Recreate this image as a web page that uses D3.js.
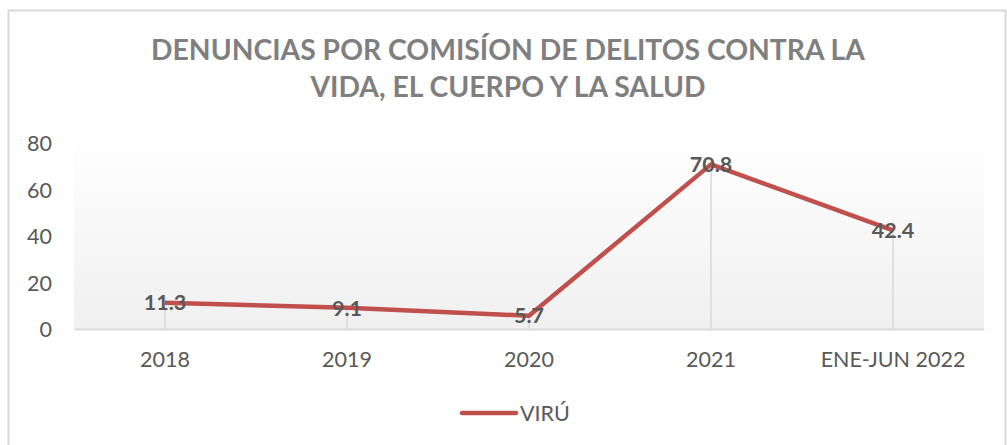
<!DOCTYPE html>
<html lang="es">
<head>
    <meta charset="UTF-8">
    <title>Denuncias - Virú</title>
    <script src="https://d3js.org/d3.v7.min.js"></script>
    <style>
        body { margin: 0; background: #fff; }
        svg { display: block; font-family: Lato, "Open Sans", sans-serif; }
        .tick text { fill: #595959; font-size: 21.5px; }
        .label { fill: #595959; font-size: 21.5px; font-weight: bold; }
        .title { fill: #7f7f7f; font-size: 28.3px; font-weight: bold; }
    </style>
</head>
<body>
    <svg width="1007" height="445"></svg>
    <script>
        // datos
        const categories = ['2018', '2019', '2020', '2021', 'ENE-JUN 2022'];
        const values = [11.3, 9.1, 5.7, 70.8, 42.4];
        const yTicks = [0, 20, 40, 60, 80];
        const seriesName = 'VIRÚ';
        const titleLines = ['DENUNCIAS POR COMISÍON DE DELITOS CONTRA LA', 'VIDA, EL CUERPO Y LA SALUD'];

        const svg = d3.select('svg');
        const margin = { left: 74, right: 23, top: 143, bottom: 116 };
        const width = 1007, height = 445;

        // borde del gráfico
        svg.append('rect')
            .attr('x', 8.5).attr('y', 10.5)
            .attr('width', 997).attr('height', 450)
            .attr('fill', '#fff')
            .attr('stroke', '#d9d9d9')
            .attr('stroke-width', 2);

        const x = d3.scaleBand()
            .domain(categories)
            .range([margin.left, width - margin.right]);

        const y = d3.scaleLinear()
            .domain([0, 80])
            .range([height - margin.bottom, margin.top]);

        // fondo degradado
        const grad = svg.append('defs').append('linearGradient')
            .attr('id', 'bg').attr('x1', 0).attr('y1', 0).attr('x2', 0).attr('y2', 1);
        grad.append('stop').attr('offset', '0%').attr('stop-color', '#ffffff');
        grad.append('stop').attr('offset', '100%').attr('stop-color', '#f0f0f0');

        svg.append('rect')
            .attr('x', margin.left).attr('y', y(80) - 10)
            .attr('width', x.range()[1] - margin.left)
            .attr('height', y(0) - y(80) + 10)
            .attr('fill', 'url(#bg)');

        // título
        svg.append('text')
            .attr('class', 'title')
            .attr('text-anchor', 'middle')
            .selectAll('tspan')
            .data(titleLines)
            .join('tspan')
            .attr('x', 508)
            .attr('y', (d, i) => 60 + i * 37)
            .text(d => d);

        // eje Y
        const yAxis = svg.append('g')
            .attr('transform', `translate(${margin.left},0)`)
            .call(d3.axisLeft(y).tickValues(yTicks).tickSize(0).tickPadding(22));
        yAxis.select('.domain').remove();
        yAxis.selectAll('.tick text').attr('dy', '0.36em').style('font-family', 'Lato');

        // eje X
        const xAxis = svg.append('g')
            .attr('transform', `translate(0,${y(0)})`)
            .call(d3.axisBottom(x).tickSize(0).tickPadding(23));
        xAxis.select('.domain').attr('stroke', '#d9d9d9').attr('stroke-width', 2);
        xAxis.selectAll('.tick text').style('font-family', 'Lato');

        const cx = d => x(d) + x.bandwidth() / 2;

        // líneas de caída
        svg.append('g')
            .selectAll('line')
            .data(categories)
            .join('line')
            .attr('x1', cx).attr('x2', cx)
            .attr('y1', (d, i) => y(values[i]))
            .attr('y2', y(0))
            .attr('stroke', '#d9d9d9')
            .attr('stroke-width', 1.5);

        // serie
        const line = d3.line()
            .x((d, i) => cx(categories[i]))
            .y(d => y(d));

        svg.append('path')
            .datum(values)
            .attr('d', line)
            .attr('fill', 'none')
            .attr('stroke', '#c0504d')
            .attr('stroke-width', 4.5)
            .attr('stroke-linejoin', 'round');

        // etiquetas
        svg.append('g')
            .selectAll('text')
            .data(values)
            .join('text')
            .attr('class', 'label')
            .attr('text-anchor', 'middle')
            .attr('x', (d, i) => cx(categories[i]))
            .attr('y', d => y(d))
            .attr('dy', '0.36em')
            .text(d => d.toFixed(1));

        // leyenda
        const legend = svg.append('g').attr('transform', 'translate(462,413)');
        legend.append('line')
            .attr('x1', 0).attr('x2', 54)
            .attr('stroke', '#c0504d')
            .attr('stroke-width', 4.5)
            .attr('stroke-linecap', 'round');
        legend.append('text')
            .attr('x', 58).attr('dy', '0.36em')
            .attr('fill', '#595959')
            .style('font-size', '21.5px')
            .text(seriesName);
    </script>
</body>
</html>
